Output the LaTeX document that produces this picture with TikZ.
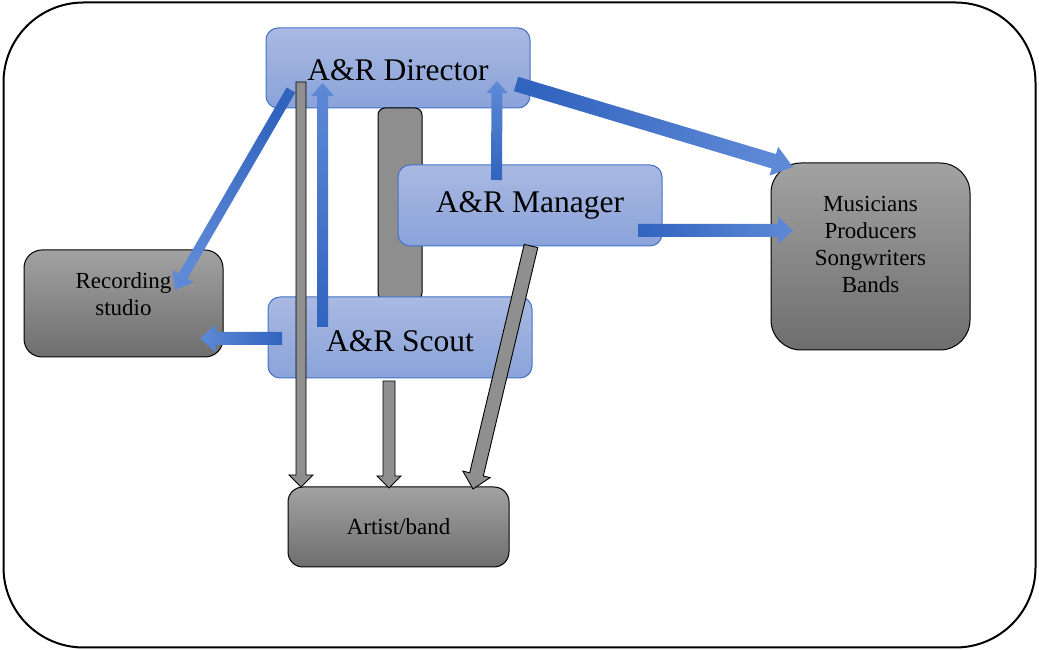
\documentclass[tikz,border=0pt]{standalone}
\usepackage{fontspec}
\setmainfont{Liberation Serif}
\definecolor{bluetop}{HTML}{A9B9E2}
\definecolor{bluebot}{HTML}{8AA3D9}
\definecolor{blueedge}{HTML}{4472C4}
\definecolor{graytop}{HTML}{A2A2A2}
\definecolor{graybot}{HTML}{6E6E6E}
\definecolor{barfill}{HTML}{8E8E8E}
\definecolor{arrdark}{HTML}{3164BF}
\definecolor{arrlight}{HTML}{5E89D6}
\definecolor{arrgray}{HTML}{8F8F8F}
\newcommand{\blockarrow}[6]{%
  \pgfpointanchor{#2}{center}\pgfgetlastxy{\bax}{\bay}%
  \pgfpointanchor{#3}{center}\pgfgetlastxy{\bbx}{\bby}%
  \pgfmathsetmacro{\bang}{atan2(\bby-\bay,\bbx-\bax)}%
  \pgfmathsetmacro{\blen}{veclen(\bbx-\bax,\bby-\bay)}%
  \pgfmathsetmacro{\bshade}{\bang-90}%
  \begin{scope}[shift={(#2)}, rotate=\bang]
    \path[#1] (0,-#4) -- ({\blen-#6},-#4) -- ({\blen-#6},-#5) -- (\blen,0) -- ({\blen-#6},#5) -- ({\blen-#6},#4) -- (0,#4) -- cycle;
  \end{scope}}
\tikzset{
  bluebox/.style={draw=blueedge, line width=1pt, rounded corners=12pt, top color=bluetop, bottom color=bluebot, font=\fontsize{31.5}{36}\selectfont, inner sep=0pt},
  graybox/.style={draw=black, line width=1pt, top color=graytop, bottom color=graybot, inner sep=0pt},
  smalltext/.style={font=\fontsize{23}{27}\selectfont, align=center, inner sep=0pt},
  bluearrow/.style={top color=arrlight, bottom color=arrdark, shading angle=\bshade},
  grayarrow/.style={fill=arrgray, draw=black, line width=0.9pt},
}
\begin{document}
\begin{tikzpicture}[x=1pt, y=1pt]
\useasboundingbox (0,0) rectangle (1039,650);
\node[draw=black, line width=2pt, rounded corners=80pt, minimum width=1032pt, minimum height=645pt, inner sep=0pt] (frame) at (519.5,325) {};
% boxes
\node[bluebox, minimum width=264pt, minimum height=80pt] (dir) at (398,582) {};
\node at (398,580) [font=\fontsize{31.5}{36}\selectfont] (dirt) {A\&R Director};
\node[draw=black, line width=1pt, fill=barfill, rounded corners=7pt, minimum width=44pt, minimum height=192pt, inner sep=0pt] (bar) at (400,446) {};
\node[bluebox, minimum width=264pt, minimum height=81pt] (man) at (530,444.5) {A\&R Manager};
\node[bluebox, minimum width=264pt, minimum height=81pt] (sco) at (400,312.5) {};
\node at (400,309) [font=\fontsize{31.5}{36}\selectfont] (scot) {A\&R Scout};
\node[graybox, rounded corners=18pt, minimum width=199pt, minimum height=107pt] (rec) at (123.5,346.5) {};
\node[smalltext] (rect) at (123.5,356) {Recording\\studio};
\node[graybox, rounded corners=30pt, minimum width=199pt, minimum height=187pt] (mus) at (870.5,393.5) {};
\node[smalltext] (must) at (870.5,405) {Musicians\\Producers\\Songwriters\\Bands};
\node[graybox, rounded corners=15pt, minimum width=221pt, minimum height=80pt] (art) at (398.5,123) {};
\node[smalltext] (artt) at (398.5,123) {Artist/band};
% connector ends
\coordinate (a1s) at (301,568);
\coordinate (a1e) at (301,163);
\coordinate (a2s) at (389,269);
\coordinate (a2e) at (389,162);
\coordinate (a3s) at (531,404);
\coordinate (a3e) at (473,161);
\coordinate (a4s) at (496.5,470);
\coordinate (a4e) at (497,569);
\coordinate (a5s) at (322.5,323);
\coordinate (a5e) at (322.5,567);
\coordinate (a6s) at (282,311.5);
\coordinate (a6e) at (200,311.5);
\coordinate (a7s) at (291,560);
\coordinate (a7e) at (175,360);
\coordinate (a8s) at (516,566);
\coordinate (a8e) at (793,483);
\coordinate (a9s) at (638,419.5);
\coordinate (a9e) at (793,419.5);
% arrows
\blockarrow{grayarrow}{a1s}{a1e}{5}{12}{12}
\blockarrow{grayarrow}{a2s}{a2e}{6}{12}{12}
\blockarrow{grayarrow}{a3s}{a3e}{7}{14}{15}
\blockarrow{bluearrow}{a4s}{a4e}{5.5}{10.5}{12}
\blockarrow{bluearrow}{a5s}{a5e}{5.5}{11.5}{13}
\blockarrow{bluearrow}{a6s}{a6e}{6.5}{14}{16}
\blockarrow{bluearrow}{a7s}{a7e}{5}{12}{16}
\blockarrow{bluearrow}{a8s}{a8e}{7.5}{15}{20}
\blockarrow{bluearrow}{a9s}{a9e}{6.5}{14}{15}
\end{tikzpicture}
\end{document}
